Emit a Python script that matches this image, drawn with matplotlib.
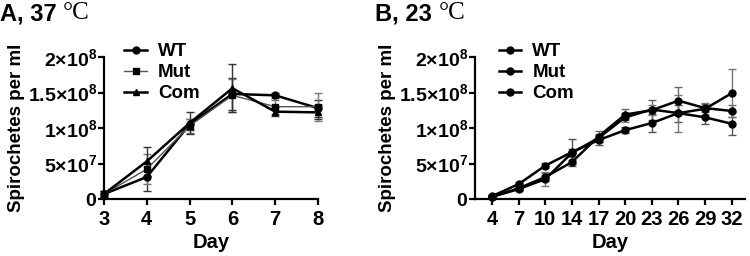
import matplotlib
matplotlib.use("Agg")
import matplotlib.pyplot as plt
import numpy as np

plt.rcParams['font.family'] = ['Liberation Sans', 'DejaVu Sans']
plt.rcParams['font.weight'] = 'bold'
plt.rcParams['mathtext.fontset'] = 'custom'
plt.rcParams['mathtext.rm'] = 'Liberation Sans:bold'
plt.rcParams['mathtext.bf'] = 'Liberation Sans:bold'

# panel A, 37 C
days_a = [3, 4, 5, 6, 7, 8]
wt_a = [0.07, 0.31, 1.05, 1.48, 1.46, 1.28]
mut_a = [0.07, 0.42, 1.03, 1.46, 1.30, 1.30]
com_a = [0.07, 0.53, 1.07, 1.56, 1.23, 1.22]
wt_a_err = [0.04, 0.20, 0.08, 0.22, 0.04, 0.12]
mut_a_err = [0.04, 0.21, 0.10, 0.23, 0.10, 0.20]
com_a_err = [0.04, 0.20, 0.15, 0.34, 0.06, 0.10]

# panel B, 23 C
days_b = ['4', '7', '10', '14', '17', '20', '23', '26', '29', '32']
wt_b = [0.04, 0.21, 0.47, 0.66, 0.83, 0.97, 1.07, 1.21, 1.15, 1.06]
mut_b = [0.03, 0.15, 0.31, 0.52, 0.88, 1.19, 1.25, 1.385, 1.28, 1.24]
com_b = [0.03, 0.14, 0.28, 0.65, 0.86, 1.15, 1.26, 1.21, 1.27, 1.49]
wt_b_err = [0.02, 0.03, 0.04, 0.19, 0.07, 0.04, 0.13, 0.12, 0.10, 0.16]
mut_b_err = [0.02, 0.03, 0.05, 0.03, 0.08, 0.08, 0.14, 0.19, 0.06, 0.08]
com_b_err = [0.02, 0.03, 0.10, 0.06, 0.06, 0.06, 0.07, 0.26, 0.08, 0.34]

scale = 1e8
yticks = [0, 0.5e8, 1e8, 1.5e8, 2e8]
ylabels = [r'$\mathbf{0}$', r'$\mathbf{5×10^{7}}$', r'$\mathbf{1×10^{8}}$',
           r'$\mathbf{1.5×10^{8}}$', r'$\mathbf{2×10^{8}}$']

fig = plt.figure(figsize=(7.5, 2.56), dpi=100)
axA = fig.add_axes([104/750, 1-199/256, 214/750, 142/256])
axB = fig.add_axes([475/750, 1-199/256, 270/750, 142/256])

def style(ax):
    for s in ['top', 'right']:
        ax.spines[s].set_visible(False)
    for s in ['left', 'bottom']:
        ax.spines[s].set_linewidth(1.6)
    ax.tick_params(width=1.6, length=4)
    ax.tick_params(axis='x', labelsize=14.5, pad=4)
    ax.tick_params(axis='y', labelsize=14, pad=1)
    ax.set_ylim(0, 2e8)
    ax.set_yticks(yticks)
    ax.set_yticklabels(ylabels)
    ax.set_xlabel('Day', fontsize=14.5, fontweight='bold', labelpad=3)
    ax.set_ylabel('Spirochetes per ml', fontsize=13.5, fontweight='bold', labelpad=2)

# A
xa = np.array(days_a)
axA.errorbar(xa, np.array(wt_a)*scale, yerr=np.array(wt_a_err)*scale, color='black', lw=1.8,
             marker='o', ms=5, capsize=3, elinewidth=1, ecolor='#333333', label='WT', clip_on=False)
axA.errorbar(xa, np.array(mut_a)*scale, yerr=np.array(mut_a_err)*scale, color='#555555', lw=1,
             marker='s', ms=5, mfc='black', mec='black', capsize=3, elinewidth=1, ecolor='#777777',
             label='Mut', clip_on=False)
axA.errorbar(xa, np.array(com_a)*scale, yerr=np.array(com_a_err)*scale, color='black', lw=1.8,
             marker='^', ms=5, capsize=3, elinewidth=1, ecolor='#333333', label='Com', clip_on=False)
axA.set_xlim(3, 8)
axA.set_xticks(days_a)
style(axA)

# B
xb = np.arange(len(days_b))
axB.errorbar(xb, np.array(wt_b)*scale, yerr=np.array(wt_b_err)*scale, color='black', lw=1.8,
             marker='o', ms=5, capsize=3, elinewidth=1, ecolor='#555555', label='WT', clip_on=False)
axB.errorbar(xb, np.array(mut_b)*scale, yerr=np.array(mut_b_err)*scale, color='black', lw=1.8,
             marker='o', ms=5, capsize=3, elinewidth=1, ecolor='#666666', label='Mut', clip_on=False)
axB.errorbar(xb, np.array(com_b)*scale, yerr=np.array(com_b_err)*scale, color='black', lw=1.8,
             marker='o', ms=5, capsize=3, elinewidth=1, ecolor='#777777', label='Com', clip_on=False)
axB.set_xlim(-0.64, 9.5)
axB.set_xticks(xb)
axB.set_xticklabels(days_b)
style(axB)

for ax in [axA, axB]:
    handles, labels = ax.get_legend_handles_labels()
    handles = [h[0] for h in handles]
    ax.legend(handles, labels, loc='upper left', bbox_to_anchor=(0.06, 1.15), frameon=False,
              handlelength=1.2, handletextpad=0.6, labelspacing=0.2,
              borderaxespad=0, prop={'weight': 'bold', 'size': 13.5})

# panel titles
for x0, t in [(0.0, 'A, 37 '), (375/750, 'B, 23 ')]:
    txt = fig.text(x0, 1-2/256, t, fontsize=17, fontweight='bold', va='top', ha='left')
    fig.canvas.draw()
    bb = txt.get_window_extent()
    fig.text(bb.x1/fig.bbox.width, 1-2/256, '°C', fontsize=18, family='Liberation Serif',
             fontweight='normal', va='top', ha='left')

fig.savefig('out.png', dpi=100)
